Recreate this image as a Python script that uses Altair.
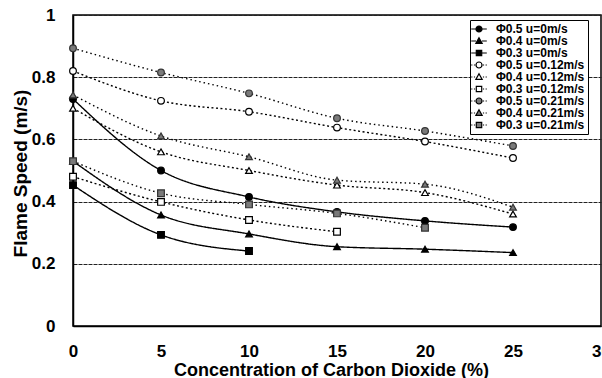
import altair as alt
import pandas as pd

# ---- data ----
x_vals = [0, 5, 10, 15, 20, 25]
series_names = [
    "Φ0.5 u=0m/s", "Φ0.4 u=0m/s", "Φ0.3 u=0m/s",
    "Φ0.5 u=0.12m/s", "Φ0.4 u=0.12m/s", "Φ0.3 u=0.12m/s",
    "Φ0.5 u=0.21m/s", "Φ0.4 u=0.21m/s", "Φ0.3 u=0.21m/s",
]
phi05_u0 = [0.73, 0.50, 0.415, 0.367, 0.338, 0.318]
phi04_u0 = [0.53, 0.357, 0.296, 0.255, 0.247, 0.236]
phi03_u0 = [0.453, 0.293, 0.241]
phi05_u012 = [0.82, 0.724, 0.689, 0.638, 0.593, 0.54]
phi04_u012 = [0.70, 0.56, 0.50, 0.453, 0.429, 0.36]
phi03_u012 = [0.48, 0.399, 0.341, 0.303]
phi05_u021 = [0.893, 0.815, 0.748, 0.668, 0.627, 0.579]
phi04_u021 = [0.743, 0.611, 0.544, 0.469, 0.456, 0.382]
phi03_u021 = [0.53, 0.427, 0.391, 0.362, 0.316]
x_ticks = [0, 5, 10, 15, 20, 25, 30]
y_ticks = [0, 0.2, 0.4, 0.6, 0.8, 1]

all_series = [phi05_u0, phi04_u0, phi03_u0, phi05_u012, phi04_u012, phi03_u012,
              phi05_u021, phi04_u021, phi03_u021]
rows = []
for order, (name, vals) in enumerate(zip(series_names, all_series)):
    for xv, yv in zip(x_vals, vals):
        rows.append({"series": name, "order": order, "co2": xv, "speed": yv})
df = pd.DataFrame(rows)

# ---- styles ----
FONT = "Liberation Sans"
shapes = ["circle", "triangle-up", "square"] * 3
fills = ["black"] * 3 + ["white"] * 3 + ["#7a7a7a"] * 3
strokes = ["black"] * 6 + ["#333333"] * 3
dashes = [[1, 0]] * 3 + [[2, 2.5]] * 3 + [[1.5, 3]] * 3

circ = "M-1,0A1,1,0,1,1,1,0A1,1,0,1,1,-1,0Z"
tri = "M0,-1.1L1.05,0.8L-1.05,0.8Z"
sq = "M-0.9,-0.9L0.9,-0.9L0.9,0.9L-0.9,0.9Z"
solid_stub = "M-2.6,0L-1,0M1,0L2.6,0"
dot_stub = "M-2.6,0L-2.2,0M-1.7,0L-1.3,0M1.3,0L1.7,0M2.2,0L2.6,0"
legend_paths = [
    solid_stub + circ, solid_stub + tri, solid_stub + sq,
    dot_stub + circ, dot_stub + tri, dot_stub + sq,
    dot_stub + circ, dot_stub + tri, dot_stub + sq,
]

x_enc = alt.X(
    "co2:Q",
    scale=alt.Scale(domain=[0, 30], nice=False),
    axis=alt.Axis(
        values=x_ticks, grid=False, ticks=False, labelPadding=17, labelFlush=False,
        labelFont=FONT, labelFontSize=17, labelFontWeight="bold", labelColor="black",
        title="Concentration of Carbon Dioxide (%)", titleFont=FONT, titleFontSize=18,
        titleFontWeight="bold", titleColor="black", titleBaseline="alphabetic",
        titleX=258, titleY=49, domainColor="black", domainWidth=1.5,
    ),
)
y_enc = alt.Y(
    "speed:Q",
    scale=alt.Scale(domain=[0, 1], nice=False),
    axis=alt.Axis(
        values=y_ticks, format="~g", grid=True, gridColor="#222", gridWidth=1,
        gridDash=[4, 1], ticks=False, labelPadding=18, labelFlush=False,
        labelFont=FONT, labelFontSize=17, labelFontWeight="bold", labelColor="black",
        title="Flame Speed (m/s)", titleFont=FONT, titleFontSize=19,
        titleFontWeight="bold", titleColor="black", titleBaseline="alphabetic",
        titleAngle=270, titleX=-47, titleY=158, domainColor="black", domainWidth=1.5,
    ),
)

base = alt.Chart(df)

lines = base.mark_line(interpolate="monotone", color="black", strokeWidth=1.4).encode(
    x=x_enc,
    y=y_enc,
    detail="series:N",
    strokeDash=alt.StrokeDash(
        "series:N", scale=alt.Scale(domain=series_names, range=dashes), legend=None
    ),
)

points = base.mark_point(filled=True, opacity=1, strokeWidth=1.2, size=45).encode(
    x="co2:Q",
    y="speed:Q",
    shape=alt.Shape("series:N", scale=alt.Scale(domain=series_names, range=shapes), legend=None),
    fill=alt.Fill("series:N", scale=alt.Scale(domain=series_names, range=fills), legend=None),
    stroke=alt.Stroke("series:N", scale=alt.Scale(domain=series_names, range=strokes), legend=None),
)

legend_layer = base.transform_filter("false").mark_point(
    filled=True, opacity=1, strokeWidth=1.2
).encode(
    x="co2:Q",
    y="speed:Q",
    shape=alt.Shape(
        "series:N",
        scale=alt.Scale(domain=series_names, range=legend_paths),
        legend=alt.Legend(
            title=None, orient="none", legendX=397, legendY=5, padding=3, rowPadding=0,
            labelFont=FONT, labelFontSize=12, labelFontWeight="bold", labelColor="black",
            labelOffset=11, symbolSize=36, symbolStrokeWidth=1.2,
            strokeColor="black", fillColor="white", symbolOpacity=1,
        ),
    ),
    fill=alt.Fill("series:N", scale=alt.Scale(domain=series_names, range=fills)),
    stroke=alt.Stroke("series:N", scale=alt.Scale(domain=series_names, range=["black"] * 9)),
)

chart = (
    alt.layer(lines, points, legend_layer)
    .resolve_scale(shape="independent", fill="independent", stroke="independent")
    .properties(
        width=528, height=311,
        autosize=alt.AutoSizeParams(type="none"),
        padding={"left": 73, "top": 15, "right": 1, "bottom": 52},
        background="white",
    )
    .configure_view(stroke="black", strokeWidth=1.5)
)

chart.save("out.html", embed_options={"renderer": "svg", "actions": False})
